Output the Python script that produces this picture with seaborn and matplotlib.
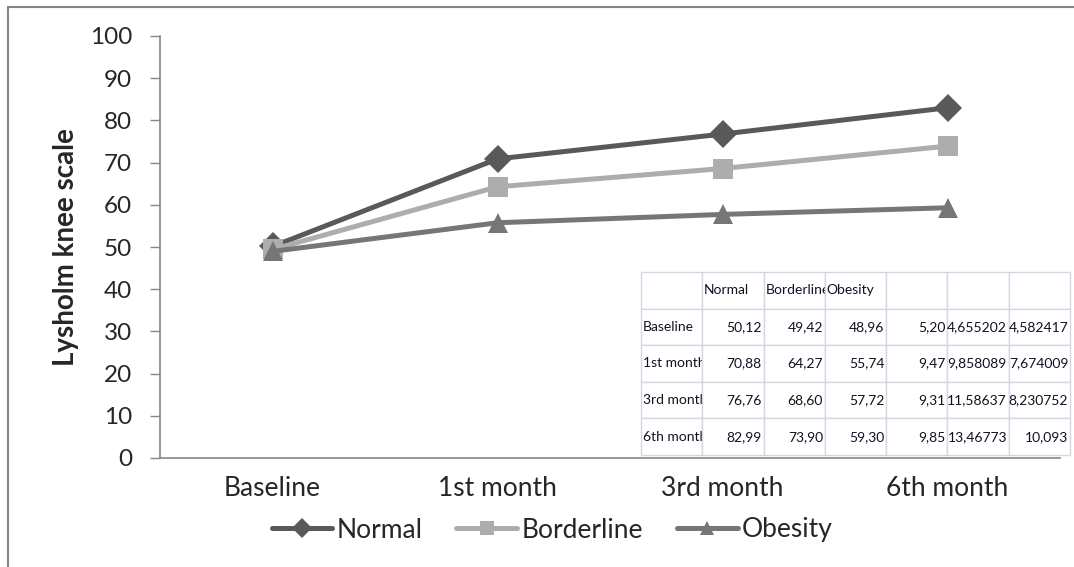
import matplotlib
matplotlib.use("Agg")
import matplotlib.pyplot as plt
import pandas as pd
import seaborn as sns
from matplotlib.patches import Rectangle

periods = ['Baseline', '1st month', '3rd month', '6th month']
normal = [50.12, 70.88, 76.76, 82.99]
borderline = [49.42, 64.27, 68.60, 73.90]
obesity = [48.96, 55.74, 57.72, 59.30]

# extra columns of the pasted table (kept as printed)
row_labels = ['Baseline', '1st month', '3rd month', '6th month']
extra1 = ['5,20', '9,47', '9,31', '9,85']
extra2 = ['4,655202', '9,858089', '11,58637', '13,46773']
extra3 = ['4,582417', '7,674009', '8,230752', '10,093']

groups = ['Normal', 'Borderline', 'Obesity']
colors = ['#595959', '#adadad', '#767676']
markers = ['D', 's', '^']

df = pd.DataFrame({
    'period': periods * 3,
    'score': normal + borderline + obesity,
    'group': [g for g in groups for _ in periods],
})
df['x'] = df['period'].map({p: i for i, p in enumerate(periods)})

sns.set_style('white')
plt.rcParams['font.family'] = ['Lato', 'DejaVu Sans']

fig = plt.figure(figsize=(10.74, 5.67), dpi=100)
ax = fig.add_axes([160 / 1074, 1 - 458 / 567, 900 / 1074, 422 / 567])

sns.lineplot(data=df, x='x', y='score', hue='group', style='group',
             hue_order=groups, style_order=groups, palette=colors,
             markers=markers, dashes=False, linewidth=3.6, markersize=14,
             markeredgewidth=0, ax=ax, legend=True)

ax.set_xlim(-0.5, 3.5)
ax.set_ylim(0, 100)
ax.set_yticks(range(0, 101, 10))
ax.set_xticks(range(4))
ax.set_xticklabels(periods)
ax.tick_params(axis='y', labelsize=17.5, length=7, width=1, color='#868686', pad=13, left=True)
ax.tick_params(axis='x', labelsize=19, length=0, pad=13)
for s in ['top', 'right']:
    ax.spines[s].set_visible(False)
for s in ['left', 'bottom']:
    ax.spines[s].set_color('#868686')
    ax.spines[s].set_linewidth(1.2)
ax.set_xlabel('')
ax.set_ylabel('Lysholm knee scale', fontsize=20, fontweight='bold', labelpad=8)

handles, labels = ax.get_legend_handles_labels()
ax.legend(handles, labels, ncol=3, frameon=False, fontsize=19,
          loc='center', bbox_to_anchor=(552 / 1074, 1 - 530 / 567),
          bbox_transform=fig.transFigure, handlelength=2.3,
          handletextpad=0.15, columnspacing=1.3, markerscale=0.75)

# pasted spreadsheet table
fmt = lambda v: f"{v:.2f}".replace('.', ',')
cell_text = [['', 'Normal', 'Borderline', 'Obesity', '', '', '']]
for i in range(4):
    cell_text.append([row_labels[i], fmt(normal[i]), fmt(borderline[i]), fmt(obesity[i]),
                      extra1[i], extra2[i], extra3[i]])
tab = ax.table(cellText=cell_text, bbox=[(641 - 160) / 900, 3 / 422, 429 / 900, 183 / 422],
               cellLoc='right')
tab.auto_set_font_size(False)
tab.set_fontsize(10)
for (r, c), cell in tab.get_celld().items():
    cell.set_edgecolor('#d0d7e5')
    cell.set_linewidth(1)
    cell.set_facecolor('white')
    cell.get_text().set_color('#111122')
    if r == 0 or c == 0:
        cell.get_text().set_horizontalalignment('left')
    cell.PAD = 0.03
    cell.set_clip_on(True)
tab.set_zorder(5)

# outer chart-area border
fig.patches.append(Rectangle((8 / 1074, -0.1), 1.2, 1.1 - 7 / 567, transform=fig.transFigure,
                             fill=False, edgecolor='#868686', linewidth=1.5))

fig.savefig('out.png', dpi=100)
